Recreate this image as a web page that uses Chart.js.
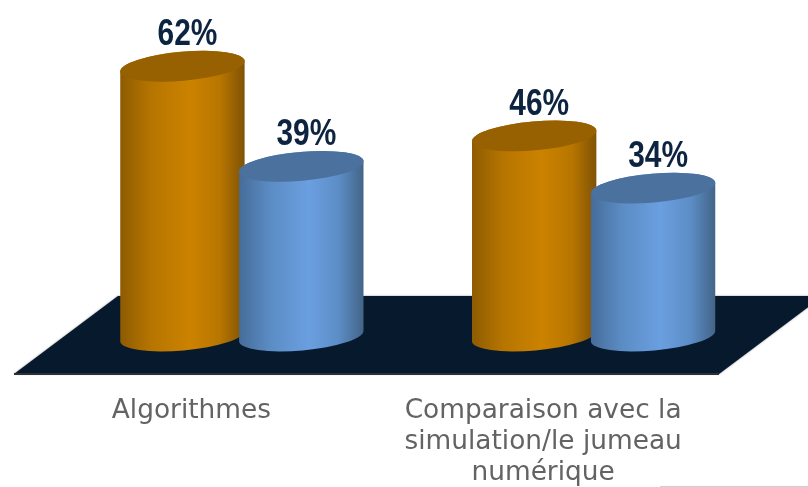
<!DOCTYPE html>
<html lang="fr">
<head>
<meta charset="utf-8">
<title>Algorithmes et simulation</title>
<script src="https://cdn.jsdelivr.net/npm/chart.js@4"></script>
<style>
  html, body { margin: 0; padding: 0; background: #ffffff; overflow: hidden; }
  canvas { display: block; }
</style>
</head>
<body>
<canvas id="chart" width="808" height="487"></canvas>
<script>
const categories = [
  "Algorithmes",
  ["Comparaison avec la", "simulation/le jumeau", "numérique"]
];
const firstSeries = [62, 46];
const secondSeries = [39, 34];

const orangeShades = { left: "#8e5b02", near: "#b67500", light: "#cc8200", far: "#b87600", right: "#7f5205", cap: "#976000" };
const blueShades = { left: "#466c99", near: "#5b8cc4", light: "#6a9fe0", far: "#5c8dc6", right: "#436487", cap: "#4b719f" };

// Offset of the bars from the front of the floor, giving the scene its depth.
const DEPTH_X = 50.5;
const DEPTH_Y = -38;
const TILT = -5 * Math.PI / 180;
const CAP_RY = 14.5;

function drawCylinder(ctx, bar, shades) {
  const { x, y, base, width } = bar.getProps(["x", "y", "base", "width"], true);
  const cx = x + DEPTH_X;
  const rx = width / 2;
  const topY = y + DEPTH_Y;
  const baseY = base + DEPTH_Y;

  const grad = ctx.createLinearGradient(cx - rx, 0, cx + rx, 0);
  grad.addColorStop(0, shades.left);
  grad.addColorStop(0.25, shades.near);
  grad.addColorStop(0.56, shades.light);
  grad.addColorStop(0.8, shades.far);
  grad.addColorStop(1, shades.right);

  ctx.beginPath();
  ctx.ellipse(cx, baseY, rx, CAP_RY, TILT, 0, Math.PI, false);
  ctx.ellipse(cx, topY, rx, CAP_RY, TILT, Math.PI, 0, false);
  ctx.closePath();
  ctx.fillStyle = grad;
  ctx.fill();

  ctx.beginPath();
  ctx.ellipse(cx, topY, rx, CAP_RY, TILT, 0, Math.PI * 2);
  ctx.fillStyle = shades.cap;
  ctx.fill();
}

const scenePlugin = {
  id: "scene",
  beforeDatasetsDraw(chart) {
    const { ctx, chartArea: a } = chart;
    const backX = 104;
    const backY = 78;
    ctx.save();
    ctx.beginPath();
    ctx.moveTo(a.left - 1.5, a.bottom);
    ctx.lineTo(a.right, a.bottom);
    ctx.lineTo(a.right + backX, a.bottom - backY);
    ctx.lineTo(a.left - 1.5 + backX, a.bottom - backY);
    ctx.closePath();
    ctx.fillStyle = "#06192d";
    ctx.shadowColor = "rgba(90,90,90,0.75)";
    ctx.shadowBlur = 2;
    ctx.fill();
    ctx.shadowColor = "transparent";
    ctx.beginPath();
    ctx.moveTo(a.left - 1.5, a.bottom);
    ctx.lineTo(a.right, a.bottom);
    ctx.strokeStyle = "#2e3032";
    ctx.lineWidth = 2;
    ctx.stroke();
    // Hairline along the lower right corner of the slide.
    ctx.beginPath();
    ctx.moveTo(660, chart.height - 0.5);
    ctx.lineTo(chart.width, chart.height - 0.5);
    ctx.strokeStyle = "#cfcfcf";
    ctx.lineWidth = 1;
    ctx.stroke();
    ctx.restore();
  },
  beforeDatasetDraw() {
    // Bars are painted as cylinders after the floor, in dataset order.
    return false;
  },
  afterDatasetsDraw(chart) {
    const { ctx } = chart;
    const shades = [orangeShades, blueShades];
    ctx.save();
    chart.data.datasets.forEach((ds, i) => {
      chart.getDatasetMeta(i).data.forEach(bar => drawCylinder(ctx, bar, shades[i]));
    });
    // Condensed bold value labels above each cylinder.
    ctx.font = 'bold 36px "Liberation Sans", Arial, sans-serif';
    ctx.fillStyle = "#0d2440";
    ctx.textAlign = "center";
    ctx.textBaseline = "middle";
    chart.data.datasets.forEach((ds, i) => {
      chart.getDatasetMeta(i).data.forEach((bar, j) => {
        const p = bar.getProps(["x", "y"], true);
        ctx.save();
        ctx.translate(p.x + DEPTH_X + 5, p.y + DEPTH_Y - 31);
        ctx.scale(0.83, 1);
        ctx.fillText(ds.data[j] + "%", 0, 0);
        ctx.restore();
      });
    });
    ctx.restore();
  }
};

new Chart(document.getElementById("chart"), {
  type: "bar",
  data: {
    labels: categories,
    datasets: [
      { label: "Série 1", data: firstSeries, backgroundColor: orangeShades.light },
      { label: "Série 2", data: secondSeries, backgroundColor: blueShades.light }
    ]
  },
  options: {
    responsive: false,
    animation: false,
    events: [],
    categoryPercentage: 0.676,
    barPercentage: 1.05,
    layout: { padding: { top: 26, left: 15.5, right: 89, bottom: 0 } },
    plugins: { legend: { display: false }, tooltip: { enabled: false } },
    scales: {
      x: {
        grid: { display: false },
        border: { display: false },
        afterFit(scale) { scale.height = 113; },
        ticks: {
          color: "#636363",
          font: { family: '"DejaVu Sans", Verdana, sans-serif', size: 26.4, lineHeight: 1.175 },
          padding: 14,
          maxRotation: 0,
          autoSkip: false
        }
      },
      y: {
        display: false,
        min: 0,
        max: 80
      }
    }
  },
  plugins: [scenePlugin]
});
</script>
</body>
</html>
